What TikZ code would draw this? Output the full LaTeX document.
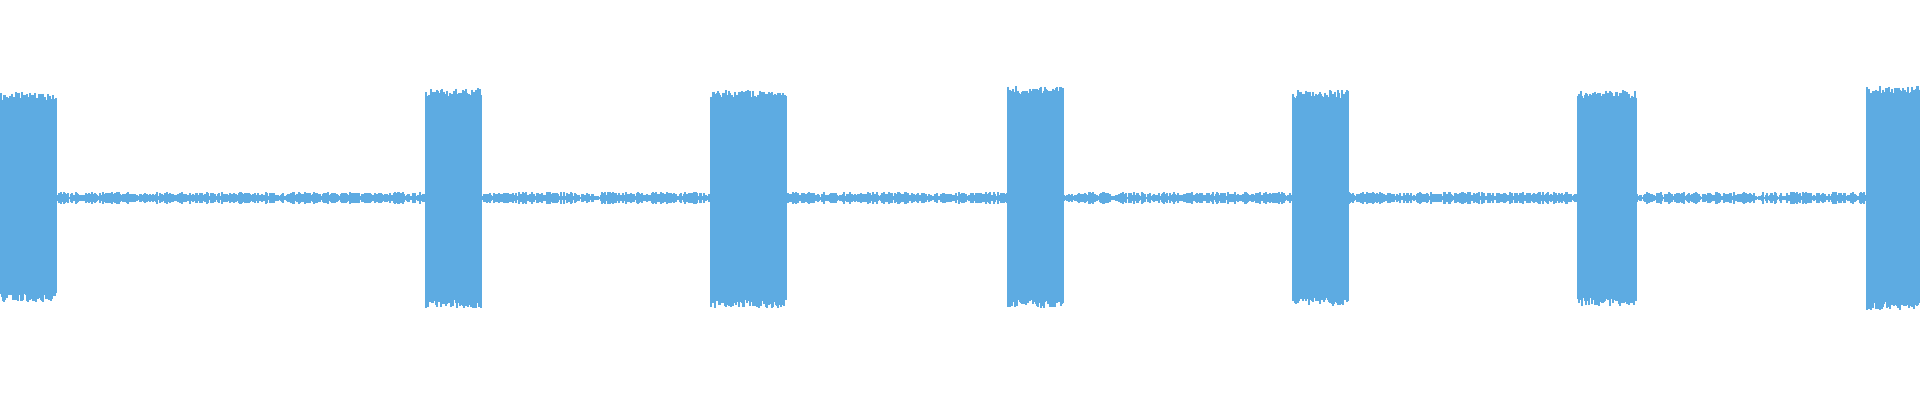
\documentclass[tikz,border=0pt]{standalone}
\usetikzlibrary{calc}
\definecolor{wave}{RGB}{93,171,226}
\tikzset{wavefill/.style={fill=wave, draw=none},
         wavetick/.style={draw=wave, line width=0.9pt}}
% burst: left, right, top, bottom (pixels from top)
\newcommand\burst[4]{%
  \fill[wavefill] (#1,-#3) rectangle (#2,-#4);
  \foreach \bx in {#1,...,#2}{%
    \pgfmathsetmacro\up{#3-1-9*rnd}
    \pgfmathsetmacro\dn{#4+1+9*rnd}
    \draw[wavetick, line width=0.5pt] (\bx,-\up) -- (\bx,-\dn);
  }}
% quiet stretch between bursts
\newcommand\quiet[2]{%
  \draw[wavetick, line width=0.6pt] (#1,-198) -- (#2,-198);
  \foreach \qx in {#1,...,#2}{%
    \pgfmathsetmacro\hh{1+5*rnd}
    \draw[wavetick, line width=0.4pt] (\qx,-198-\hh) -- (\qx,-198+\hh);
  }}
\begin{document}
\begin{tikzpicture}[x=0.01cm, y=0.01cm]
  \pgfmathsetseed{7}
  \useasboundingbox (0,0) rectangle (1920,-400);
  % wave bursts
  \burst{1}{56}{102}{292}
  \burst{426}{481}{98}{298}
  \burst{711}{786}{100}{298}
  \burst{1008}{1063}{96}{298}
  \burst{1293}{1348}{100}{296}
  \burst{1578}{1636}{100}{296}
  \burst{1867}{1919}{96}{300}
  % quiet parts
  \quiet{57}{425}
  \quiet{482}{710}
  \quiet{787}{1007}
  \quiet{1064}{1292}
  \quiet{1349}{1577}
  \quiet{1637}{1866}
\end{tikzpicture}
\end{document}
